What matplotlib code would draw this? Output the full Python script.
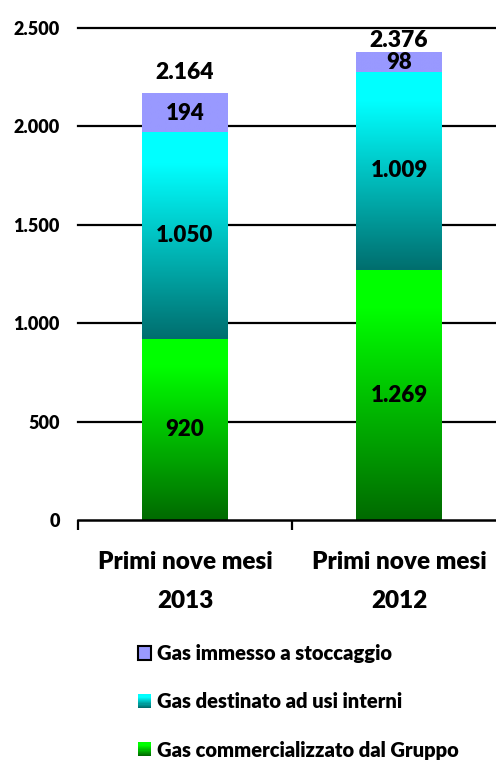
import numpy as np
import matplotlib
matplotlib.use('Agg')
import matplotlib.pyplot as plt
from matplotlib.colors import LinearSegmentedColormap
from matplotlib.patches import Rectangle
from matplotlib.legend_handler import HandlerBase

# ==================== data ====================
categories = ['Primi nove mesi\n2013', 'Primi nove mesi\n2012']
commercializzato = [920, 1269]
usi_interni = [1050, 1009]
stoccaggio = [194, 98]
totals = [2164, 2376]
series_labels = ['Gas commercializzato dal Gruppo',
                 'Gas destinato ad usi interni',
                 'Gas immesso a stoccaggio']
y_ticks = [0, 500, 1000, 1500, 2000, 2500]

# ==================== style ====================
# (top colour, bottom colour) of each series gradient
GRADIENTS = [('#00FF00', '#006A00'),
             ('#00FFFF', '#006E6E'),
             ('#9999FF', '#9999FF')]
TOTAL_OFFSETS = [22, 12]  # px above bar top for total labels
W = 800  # font weight

plt.rcParams['font.family'] = ['Lato', 'DejaVu Sans']
plt.rcParams['font.weight'] = W


def fmt(v):
    return f'{v:,}'.replace(',', '.')


def make_cmap(top, bottom):
    return LinearSegmentedColormap.from_list('g', [(0, bottom), (0.85, top), (1, top)])


class GradientHandler(HandlerBase):
    def __init__(self, top, bottom, edge=None, n=12):
        super().__init__()
        self.top, self.bottom, self.edge, self.n = top, bottom, edge, n

    def create_artists(self, legend, orig_handle, xdescent, ydescent,
                       width, height, fontsize, trans):
        size = 9.5
        x0 = -xdescent + width - size
        y0 = -ydescent + (height - size) / 2
        cmap = make_cmap(self.top, self.bottom)
        arts = []
        for i in range(self.n):
            c = cmap(i / (self.n - 1))
            arts.append(Rectangle((x0, y0 + size * i / self.n), size, size / self.n + 0.3,
                                  facecolor=c, edgecolor='none', transform=trans))
        if self.edge:
            arts.append(Rectangle((x0, y0), size, size, facecolor='none',
                                  edgecolor=self.edge, lw=1.5, transform=trans))
        return arts


fig = plt.figure(figsize=(4.96, 7.62), dpi=100)
ax = fig.add_axes([78 / 496, 242 / 762, 428 / 496, 492 / 762])
ax.set_xlim(-0.5, 1.5)
ax.set_ylim(0, 2500)

x = np.arange(len(categories))
bottoms = np.zeros(len(categories))
handles = []
for vals, (top, bot) in zip([commercializzato, usi_interni, stoccaggio], GRADIENTS):
    bars = ax.bar(x, vals, width=0.40, bottom=bottoms, color='none', edgecolor='none', zorder=3)
    cmap = make_cmap(top, bot)
    grad = np.linspace(0, 1, 256).reshape(-1, 1)
    for rect, v in zip(bars, vals):
        x0, y0 = rect.get_x(), rect.get_y()
        ax.imshow(grad, cmap=cmap, origin='lower', aspect='auto', zorder=3,
                  extent=(x0, x0 + rect.get_width(), y0, y0 + rect.get_height()),
                  interpolation='bilinear')
        ax.text(x0 + rect.get_width() / 2, y0 + rect.get_height() / 2, fmt(v),
                ha='center', va='center', fontsize=16, fontweight=W, zorder=5)
    handles.append(bars)
    bottoms = bottoms + np.array(vals)

for xi, t, off in zip(x, totals, TOTAL_OFFSETS):
    ax.annotate(fmt(t), (xi, t), xytext=(0, off * 0.72), textcoords='offset points',
                ha='center', va='center', fontsize=16.5, fontweight=W, zorder=5)

ax.set_aspect('auto')
ax.set_xlim(-0.5, 1.5)
ax.set_ylim(0, 2500)

# grid + axes
ax.set_yticks(y_ticks)
ax.set_yticklabels([fmt(v) for v in y_ticks])
for v in y_ticks[1:]:
    ax.axhline(v, color='black', lw=1.6, zorder=1, clip_on=False)
ax.tick_params(axis='y', length=0, pad=13, labelsize=13)
ax.set_xticks(x)
ax.set_xticklabels(categories, fontsize=17.5, fontweight=W, linespacing=1.95)
ax.tick_params(axis='x', which='major', length=0, pad=22)
ax.set_xticks([-0.5, 0.5, 1.5], minor=True)
ax.tick_params(axis='x', which='minor', length=7, width=1.6, direction='out')
for s in ['top', 'right', 'left']:
    ax.spines[s].set_visible(False)
ax.spines['bottom'].set_linewidth(1.8)
ax.spines['bottom'].set_zorder(4)
for lbl in ax.get_yticklabels():
    lbl.set_fontweight(W)

# legend (reverse order)
leg_handles = [handles[2], handles[1], handles[0]]
leg_labels = [series_labels[2], series_labels[1], series_labels[0]]
handler_map = {
    handles[2]: GradientHandler(*GRADIENTS[2], edge='black', n=2),
    handles[1]: GradientHandler(*GRADIENTS[1]),
    handles[0]: GradientHandler(*GRADIENTS[0]),
}
fig.legend(leg_handles, leg_labels, handler_map=handler_map,
           loc='upper left', bbox_to_anchor=(117 / 496, 1 - 626 / 762),
           frameon=False, prop={'weight': W, 'size': 14.5},
           handlelength=0.8, handletextpad=0.3, labelspacing=1.45)

fig.savefig('out.png', dpi=100)
